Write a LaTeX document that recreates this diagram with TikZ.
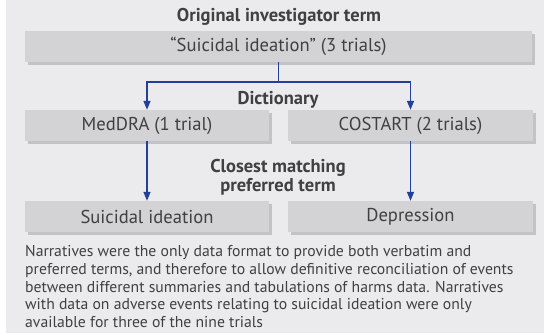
\documentclass[tikz,border=0pt]{standalone}
\usepackage{fontspec}
\setmainfont{PT Sans}
\usetikzlibrary{arrows.meta,shadows}
\definecolor{bg}{HTML}{EBEBED}
\definecolor{boxc}{HTML}{D3D3D5}
\definecolor{shadc}{HTML}{C3C3C5}
\definecolor{txt}{HTML}{404040}
\definecolor{arrc}{HTML}{22409A}
\begin{document}
\begin{tikzpicture}[x=1pt,y=-1pt,
  box/.style={fill=boxc, minimum height=31pt, inner sep=0pt, text=txt,
    font=\fontsize{18.6}{20}\selectfont,
    general shadow={fill=shadc, shadow xshift=3pt, shadow yshift=-3pt}},
  lab/.style={text=txt, font=\fontsize{18.5}{19}\selectfont\bfseries, align=center, inner sep=0pt},
  arr/.style={draw=arrc, line width=1.5pt, -{Triangle[length=9pt,width=7pt]}},
  ln/.style={draw=arrc, line width=1.5pt}]
\useasboundingbox (0,0) rectangle (544,333);
\fill[bg] (6,0) rectangle (544,333);
\node[lab] (title) at (279,17) {Original investigator term};
\node[box, minimum width=507pt] (top) at (278.5,46) {“Suicidal ideation” (3 trials)};
\node[lab] (dict) at (278,100) {Dictionary};
\node[box, minimum width=244pt] (med) at (147,125.5) {MedDRA (1 trial)};
\node[box, minimum width=245pt] (cos) at (410.5,125.5) {COSTART (2 trials)};
\node[lab] (close) at (278,177) {Closest matching\\preferred term};
\node[box, minimum width=244pt] (si) at (147,216.5) {Suicidal ideation};
\node[box, minimum width=245pt] (dep) at (410.5,216.5) {Depression};
\coordinate (j) at (278.5,82);
\draw[ln] (top.south) -- (j);
\draw[arr] (j) -| (med.north);
\draw[arr] (j) -| (cos.north);
\draw[arr] (med.south) -- (si.north);
\draw[arr] (cos.south) -- (dep.north);
\node[anchor=north west, inner sep=0pt, text=txt, align=left,
  font=\fontsize{15.7}{17.7}\selectfont] (para) at (25,245.5)
  {Narratives were the only data format to provide both verbatim and\\
   preferred terms, and therefore to allow definitive reconciliation of events\\
   between different summaries and tabulations of harms data. Narratives\\
   with data on adverse events relating to suicidal ideation were only\\
   available for three of the nine trials};
\end{tikzpicture}
\end{document}
